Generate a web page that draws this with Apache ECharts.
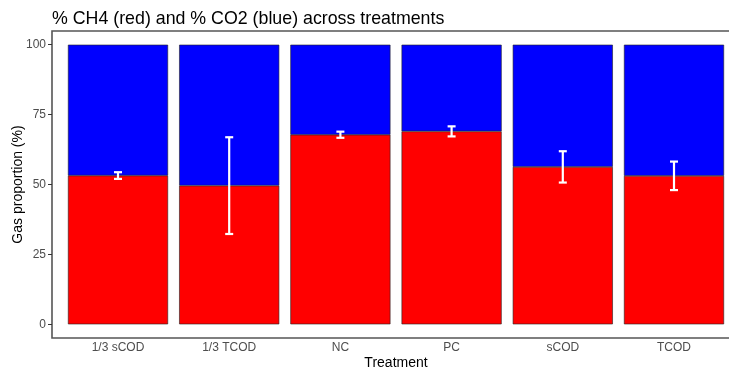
<!DOCTYPE html>
<html>
<head>
<meta charset="utf-8">
<script src="https://cdn.jsdelivr.net/npm/echarts@6/dist/echarts.min.js"></script>
<style>
  html, body { margin: 0; padding: 0; background: #fff; }
  #chart { width: 729px; height: 372px; }
</style>
</head>
<body>
<div id="chart"></div>
<script>
// Treatments and mean gas composition (percent)
const treatments = ['1/3 sCOD', '1/3 TCOD', 'NC', 'PC', 'sCOD', 'TCOD'];
const ch4Mean = [53.2, 49.6, 67.8, 69.0, 56.3, 53.1];
const ch4Err = [1.2, 17.3, 1.1, 1.8, 5.6, 5.1];
const co2Mean = ch4Mean.map(v => 100 - v);
const yTicks = [0, 25, 50, 75, 100];

const FONT = 'Liberation Sans, Arial, sans-serif';
const errData = ch4Mean.map((m, i) => [i, m - ch4Err[i], m + ch4Err[i]]);

const chart = echarts.init(document.getElementById('chart'), null, { renderer: 'canvas' });

chart.setOption({
  animation: false,
  backgroundColor: '#fff',
  textStyle: { fontFamily: FONT },
  title: {
    text: '% CH4 (red) and % CO2 (blue) across treatments',
    left: 52, top: 10, padding: 0,
    textStyle: { fontFamily: FONT, fontSize: 17.8, fontWeight: 'normal', color: '#000' }
  },
  grid: [
    // panel frame (runs past the right edge of the canvas)
    { left: 52, top: 31, width: 689, height: 307, show: true,
      outerBoundsMode: 'none', containLabel: false,
      borderColor: '#555', borderWidth: 1.6, backgroundColor: 'transparent' },
    // data area: y from 0 to 100, categories in evenly spaced bands
    { left: 62.4, top: 44.7, width: 667.2, height: 279.6,
      outerBoundsMode: 'none', containLabel: false }
  ],
  xAxis: [
    { gridIndex: 0, type: 'value', show: false, min: 0, max: 1 },
    { gridIndex: 1, type: 'category', data: treatments,
      offset: 13.7,
      axisLine: { show: false }, axisTick: { show: false },
      axisLabel: { color: '#4D4D4D', fontSize: 12, margin: 4, fontFamily: FONT },
      name: 'Treatment', nameLocation: 'middle', nameGap: 18, nameMoveOverlap: false,
      nameTextStyle: { color: '#000', fontSize: 14, fontFamily: FONT } }
  ],
  yAxis: [
    { gridIndex: 0, type: 'value', show: false, min: 0, max: 1 },
    { gridIndex: 1, type: 'value', min: 0, max: 100, interval: 25,
      offset: 10.4,
      axisLine: { show: false },
      axisTick: { show: true, length: 4, lineStyle: { color: '#333', width: 1 } },
      splitLine: { show: false },
      axisLabel: { color: '#4D4D4D', fontSize: 12, margin: 6, fontFamily: FONT,
        formatter: v => yTicks.includes(v) ? String(v) : '' },
      name: 'Gas proportion (%)', nameLocation: 'middle', nameGap: 27, nameRotate: 90,
      nameMoveOverlap: false,
      nameTextStyle: { color: '#000', fontSize: 14, fontFamily: FONT } }
  ],
  series: [
    { name: 'CH4', type: 'bar', stack: 'gas', xAxisIndex: 1, yAxisIndex: 1,
      barWidth: '90%', data: ch4Mean,
      itemStyle: { color: '#FF0000', borderColor: '#222', borderWidth: 0.6 } },
    { name: 'CO2', type: 'bar', stack: 'gas', xAxisIndex: 1, yAxisIndex: 1,
      barWidth: '90%', data: co2Mean,
      itemStyle: { color: '#0000FF', borderColor: '#222', borderWidth: 0.6 } },
    { name: 'CH4 error', type: 'custom', xAxisIndex: 1, yAxisIndex: 1, z: 10,
      data: errData,
      renderItem: (params, api) => {
        const lo = api.coord([api.value(0), api.value(1)]);
        const hi = api.coord([api.value(0), api.value(2)]);
        const cap = 4;
        const style = { stroke: '#fff', lineWidth: 2.2, fill: null };
        return { type: 'group', children: [
          { type: 'line', shape: { x1: lo[0], y1: lo[1], x2: hi[0], y2: hi[1] }, style },
          { type: 'line', shape: { x1: lo[0] - cap, y1: lo[1], x2: lo[0] + cap, y2: lo[1] }, style },
          { type: 'line', shape: { x1: hi[0] - cap, y1: hi[1], x2: hi[0] + cap, y2: hi[1] }, style }
        ]};
      } }
  ]
});
</script>
</body>
</html>
